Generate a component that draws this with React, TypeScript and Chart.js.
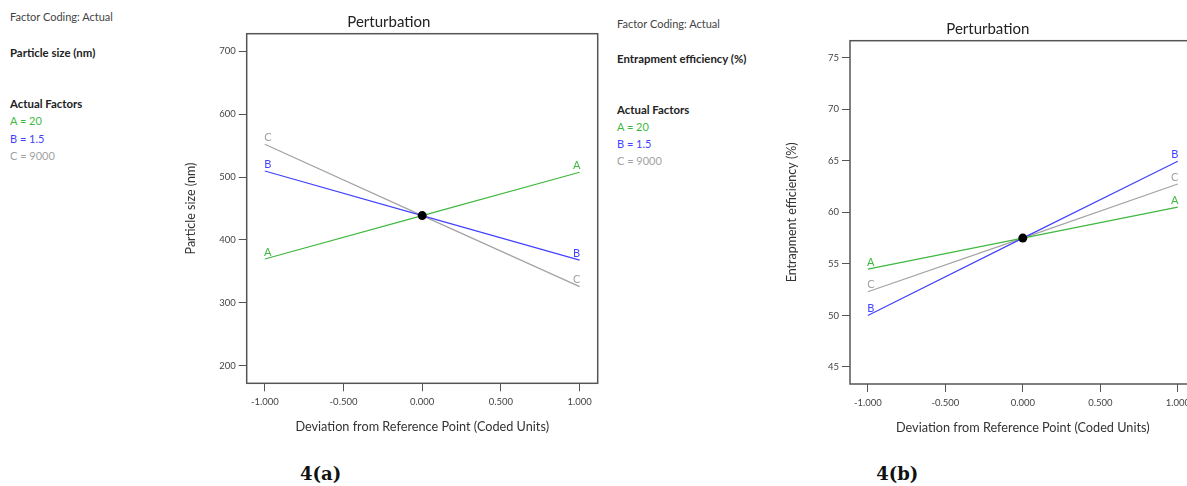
import React, { useEffect, useRef } from "react";
import { Chart, registerables } from "chart.js";
Chart.register(...registerables);

// ---------- data ----------
const factorLetters = ["A", "B", "C"];
const factorColors = ["#3fb83f", "#4343ff", "#a3a3a3"];
const deviations = [-1, 0, 1];
const xTickValues = [-1, -0.5, 0, 0.5, 1];

// 4(a) Particle size (nm)
const sizeA = [369.8, 438.7, 507.5];
const sizeB = [509.5, 438.7, 368.0];
const sizeC = [551.9, 438.7, 325.9];
const sizeRef = 438.7;
const sizeYTicks = [200, 300, 400, 500, 600, 700];

// 4(b) Entrapment efficiency (%)
const eeA = [54.5, 57.5, 60.5];
const eeB = [50.0, 57.5, 64.95];
const eeC = [52.3, 57.5, 62.75];
const eeRef = 57.5;
const eeYTicks = [45, 50, 55, 60, 65, 70, 75];

const FONT = "Lato, 'Noto Sans', sans-serif";

const framePlugin = {
  id: "frame",
  afterDraw(chart: any) {
    const { ctx, chartArea: a } = chart;
    ctx.save();
    ctx.strokeStyle = "#555";
    ctx.lineWidth = 1.5;
    ctx.strokeRect(a.left, a.top, a.right - a.left, a.bottom - a.top);
    ctx.restore();
  },
};

const lettersPlugin = {
  id: "letters",
  afterDatasetsDraw(chart: any) {
    const { ctx } = chart;
    ctx.save();
    ctx.font = `11px ${FONT}`;
    ctx.textAlign = "center";
    ctx.textBaseline = "middle";
    chart.data.datasets.forEach((ds: any, i: number) => {
      if (!ds.letter) return;
      const pts = chart.getDatasetMeta(i).data;
      const first = pts[0];
      const last = pts[pts.length - 1];
      ctx.fillStyle = ds.borderColor;
      ctx.fillText(ds.letter, first.x + 3, first.y - 7);
      ctx.fillText(ds.letter, last.x - 3, last.y - 7);
    });
    ctx.restore();
  },
};

type P = {
  series: number[][];
  refValue: number;
  yTicks: number[];
  yMin: number;
  yMax: number;
  yTitle: string;
  yTitlePad: number;
  yWidth: number;
  xHeight: number;
  titleTop: number;
  titleBottom: number;
  padRight: number;
  width: number;
  height: number;
  left: number;
};

function PerturbationChart(p: P) {
  const ref = useRef<HTMLCanvasElement>(null);
  useEffect(() => {
    if (!ref.current) return;
    const datasets: any[] = [
      {
        label: "Reference",
        data: [{ x: 0, y: p.refValue }],
        showLine: false,
        pointRadius: 4.5,
        pointBackgroundColor: "#000",
        pointBorderColor: "#000",
        pointBorderWidth: 0,
      },
      ...p.series.map((s, i) => ({
        label: factorLetters[i],
        letter: factorLetters[i],
        data: deviations.map((d, j) => ({ x: d, y: s[j] })),
        borderColor: factorColors[i],
        backgroundColor: factorColors[i],
        borderWidth: 1.2,
        pointRadius: 0,
        fill: false,
        tension: 0,
      })),
    ];
    const chart = new Chart(ref.current, {
      type: "line",
      data: { datasets },
      options: {
        responsive: false,
        animation: false,
        events: [],
        layout: { padding: { left: 0, right: p.padRight, top: 0, bottom: 0 } },
        plugins: {
          legend: { display: false },
          tooltip: { enabled: false },
          title: {
            display: true,
            text: "Perturbation",
            color: "#222",
            font: { family: FONT, size: 15, weight: "normal" as any, lineHeight: 1.2 },
            padding: { top: p.titleTop, bottom: p.titleBottom },
          },
        },
        scales: {
          x: {
            type: "linear",
            min: -1.115,
            max: 1.115,
            afterBuildTicks: (s: any) => {
              s.ticks = xTickValues.map((v) => ({ value: v }));
            },
            afterFit: (s: any) => {
              s.height = p.xHeight;
            },
            border: { display: false },
            grid: { drawOnChartArea: false, drawTicks: true, tickLength: 8, color: "#555", lineWidth: 1 },
            ticks: {
              padding: 5,
              color: "#444",
              font: { family: FONT, size: 9.5 },
              maxRotation: 0,
              autoSkip: false,
              callback: (v: any) => Number(v).toFixed(3),
            },
            title: {
              display: true,
              text: "Deviation from Reference Point (Coded Units)",
              color: "#333",
              font: { family: FONT, size: 12.7, lineHeight: 1.2 },
              padding: { top: 0, bottom: 0 },
            },
          },
          y: {
            type: "linear",
            min: p.yMin,
            max: p.yMax,
            afterBuildTicks: (s: any) => {
              s.ticks = p.yTicks.map((v) => ({ value: v }));
            },
            afterFit: (s: any) => {
              s.width = p.yWidth;
            },
            border: { display: false },
            grid: { drawOnChartArea: false, drawTicks: true, tickLength: 8, color: "#555", lineWidth: 1 },
            ticks: {
              padding: 3,
              color: "#444",
              font: { family: FONT, size: 9.5 },
              callback: (v: any) => String(v),
            },
            title: {
              display: true,
              text: p.yTitle,
              color: "#333",
              font: { family: FONT, size: 12.5, lineHeight: 1.2 },
              padding: { top: p.yTitlePad, bottom: 0 },
            },
          },
        },
      } as any,
      plugins: [framePlugin, lettersPlugin],
    });
    return () => chart.destroy();
  }, []);
  return (
    <canvas
      ref={ref}
      width={p.width}
      height={p.height}
      style={{ position: "absolute", left: p.left, top: 0, width: p.width, height: p.height }}
    />
  );
}

const txt = (top: number, left: number, text: string, color: string, bold = false) => (
  <div
    style={{
      position: "absolute",
      left,
      top: top - 8,
      height: 16,
      lineHeight: "16px",
      fontFamily: FONT,
      fontSize: bold ? 11.4 : 11,
      fontWeight: bold ? 700 : 400,
      color,
      whiteSpace: "nowrap",
    }}
  >
    {text}
  </div>
);

function SidePanel({ left, ys, response }: { left: number; ys: number[]; response: string }) {
  return (
    <>
      {txt(ys[0], left, "Factor Coding: Actual", "#444")}
      {txt(ys[1], left, response, "#222", true)}
      {txt(ys[2], left, "Actual Factors", "#222", true)}
      {txt(ys[3], left, "A = 20", factorColors[0])}
      {txt(ys[4], left, "B = 1.5", factorColors[1])}
      {txt(ys[5], left, "C = 9000", factorColors[2])}
    </>
  );
}

const caption = (cx: number, text: string) => (
  <div
    style={{
      position: "absolute",
      left: cx - 40,
      width: 80,
      top: 474 - 12,
      height: 24,
      lineHeight: "24px",
      textAlign: "center",
      fontFamily: "'DejaVu Serif', serif",
      fontWeight: 700,
      fontSize: 18,
      color: "#111",
    }}
  >
    {text}
  </div>
);

export default function App() {
  return (
    <div
      style={{
        position: "absolute",
        left: 0,
        top: 0,
        width: 1187,
        height: 486,
        overflow: "hidden",
        background: "#fff",
      }}
    >
      <SidePanel left={10} ys={[17, 52.7, 104.3, 121, 138.7, 156]} response="Particle size (nm)" />
      <SidePanel left={617} ys={[24.3, 59, 110, 127, 144, 160.7]} response="Entrapment efficiency (%)" />
      <PerturbationChart
        series={[sizeA, sizeB, sizeC]}
        refValue={sizeRef}
        yTicks={sizeYTicks}
        yMin={172.5}
        yMax={727.5}
        yTitle="Particle size (nm)"
        yTitlePad={3.5}
        yWidth={66.7}
        xHeight={51.7}
        titleTop={13}
        titleBottom={2.7}
        padRight={22.3}
        width={440}
        height={435}
        left={180}
      />
      <PerturbationChart
        series={[eeA, eeB, eeC]}
        refValue={eeRef}
        yTicks={eeYTicks}
        yMin={43.35}
        yMax={76.65}
        yTitle="Entrapment efficiency (%)"
        yTitlePad={4.5}
        yWidth={70}
        xHeight={52}
        titleTop={20}
        titleBottom={2.7}
        padRight={24.4}
        width={440}
        height={436}
        left={780}
      />
      {caption(320.7, "4(a)")}
      {caption(897.3, "4(b)")}
    </div>
  );
}
